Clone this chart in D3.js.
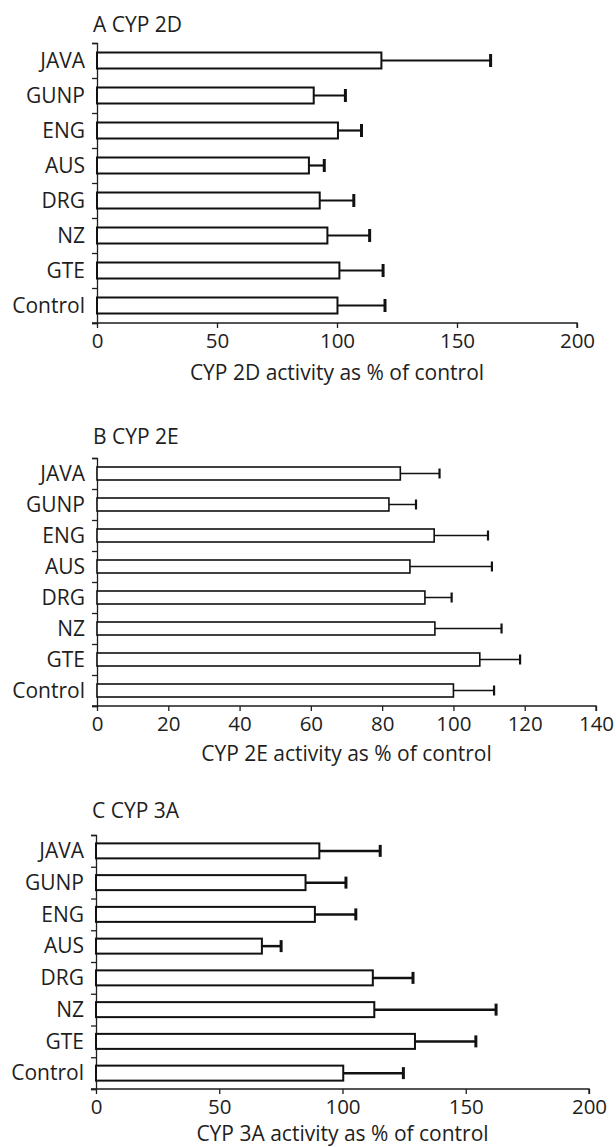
<!DOCTYPE html>
<html>
<head>
<meta charset="utf-8">
<script src="https://cdn.jsdelivr.net/npm/d3@7"></script>
<style>
  body { margin: 0; background: #fff; }
  text { font-family: "Open Sans", sans-serif; fill: #1e1e1e; }
</style>
</head>
<body>
<div id="chart"></div>
<script>
// three panels, same categories, bars = mean % of control, whiskers = +SD
const width = 616;
const height = 1147;

const categories = ["JAVA", "GUNP", "ENG", "AUS", "DRG", "NZ", "GTE", "Control"];

const cyp2dMean = [118.5, 90.3, 100.4, 88.3, 92.8, 96.0, 101.0, 100.2];
const cyp2dSD   = [45.5, 13.2, 9.8, 6.4, 14.2, 17.6, 18.2, 19.8];
const cyp2dTicks = [0, 50, 100, 150, 200];

const cyp2eMean = [85.1, 81.9, 94.6, 87.8, 92.0, 94.8, 107.4, 100.0];
const cyp2eSD   = [11.0, 7.6, 15.1, 23.0, 7.5, 18.7, 11.3, 11.4];
const cyp2eTicks = [0, 20, 40, 60, 80, 100, 120, 140];

const cyp3aMean = [90.6, 85.0, 88.8, 67.3, 112.3, 112.9, 129.4, 100.3];
const cyp3aSD   = [24.7, 16.4, 16.6, 7.8, 16.3, 49.4, 24.7, 24.4];
const cyp3aTicks = [0, 50, 100, 150, 200];

const fontSize = "21px";

const svg = d3.select("#chart")
  .append("svg")
  .attr("width", width)
  .attr("height", height);

function drawPanel(p) {
  const g = svg.append("g");

  const x = d3.scaleLinear()
    .domain([0, p.max])
    .range([p.left, p.right]);

  // band scale for bar rows, linear index scale for the boundary ticks
  const y = d3.scaleBand()
    .domain(categories)
    .range([p.top, p.bottom])
    .padding(0);
  const yIdx = d3.scaleLinear()
    .domain([0, categories.length])
    .range([p.top, p.bottom]);

  // title
  g.append("text")
    .attr("x", p.left - 4)
    .attr("y", p.titleY)
    .attr("font-size", fontSize)
    .text(p.title);

  // y axis with ticks between rows
  const yAx = g.append("g")
    .attr("transform", `translate(${p.left},0)`)
    .call(d3.axisLeft(yIdx).ticks(categories.length).tickFormat("").tickSize(5).tickSizeOuter(5));
  yAx.selectAll("path, line").attr("stroke", "#1e1e1e").attr("stroke-width", 1.3);

  // row labels
  const yLab = g.append("g")
    .attr("transform", `translate(${p.left - 12},0)`)
    .call(d3.axisLeft(y).tickSize(0));
  yLab.select(".domain").remove();
  yLab.selectAll("text")
    .attr("x", 0)
    .attr("dy", "0.35em")
    .style("font-family", "'Open Sans', sans-serif")
    .attr("font-size", fontSize)
    .attr("fill", "#1e1e1e");

  // x axis
  const xAx = g.append("g")
    .attr("transform", `translate(0,${p.bottom})`)
    .call(d3.axisBottom(x).tickValues(p.ticks).tickSize(5).tickSizeOuter(5).tickPadding(5));
  xAx.selectAll("path, line").attr("stroke", "#1e1e1e").attr("stroke-width", 1.3);
  xAx.select(".domain").attr("d", `M${p.left - 5},0H${x(p.max)}V5`);
  xAx.selectAll("text")
    .style("font-family", "'Open Sans', sans-serif")
    .attr("font-size", "20.5px")
    .attr("fill", "#1e1e1e");

  // axis title
  g.append("text")
    .attr("x", (x(0) + x(p.max)) / 2)
    .attr("y", p.labelY)
    .attr("text-anchor", "middle")
    .attr("font-size", fontSize)
    .text(p.label);

  const rows = categories.map((c, i) => ({ name: c, mean: p.mean[i], sd: p.sd[i] }));
  const cy = d => y(d.name) + y.bandwidth() / 2;

  // error bars (drawn first, bars on top)
  g.selectAll(".err")
    .data(rows)
    .enter()
    .append("line")
      .attr("x1", d => x(d.mean))
      .attr("x2", d => x(d.mean + d.sd))
      .attr("y1", cy)
      .attr("y2", cy)
      .attr("stroke", "#111")
      .attr("stroke-width", p.errW);

  g.selectAll(".cap")
    .data(rows)
    .enter()
    .append("line")
      .attr("x1", d => x(d.mean + d.sd))
      .attr("x2", d => x(d.mean + d.sd))
      .attr("y1", d => cy(d) - p.capH / 2)
      .attr("y2", d => cy(d) + p.capH / 2)
      .attr("stroke", "#111")
      .attr("stroke-width", p.capW);

  g.selectAll(".bar")
    .data(rows)
    .enter()
    .append("rect")
      .attr("x", x(0))
      .attr("y", d => cy(d) - p.barH / 2)
      .attr("width", d => x(d.mean) - x(0))
      .attr("height", p.barH)
      .attr("fill", "#fff")
      .attr("stroke", "#111")
      .attr("stroke-width", p.barW);
}

drawPanel({
  title: "A CYP 2D", label: "CYP 2D activity as % of control",
  mean: cyp2dMean, sd: cyp2dSD, ticks: cyp2dTicks, max: 200,
  left: 97, right: 577, top: 43, bottom: 323,
  titleY: 32, labelY: 380,
  barH: 16, barW: 2, errW: 2.2, capW: 3, capH: 13
});

drawPanel({
  title: "B CYP 2E", label: "CYP 2E activity as % of control",
  mean: cyp2eMean, sd: cyp2eSD, ticks: cyp2eTicks, max: 140,
  left: 97, right: 596, top: 458, bottom: 706,
  titleY: 444, labelY: 761,
  barH: 13, barW: 1.6, errW: 1.5, capW: 2.2, capH: 10
});

drawPanel({
  title: "C CYP 3A", label: "CYP 3A activity as % of control",
  mean: cyp3aMean, sd: cyp3aSD, ticks: cyp3aTicks, max: 200,
  left: 96, right: 589, top: 835, bottom: 1089,
  titleY: 818, labelY: 1141,
  barH: 15, barW: 2, errW: 2.5, capW: 3, capH: 12
});
</script>
</body>
</html>
